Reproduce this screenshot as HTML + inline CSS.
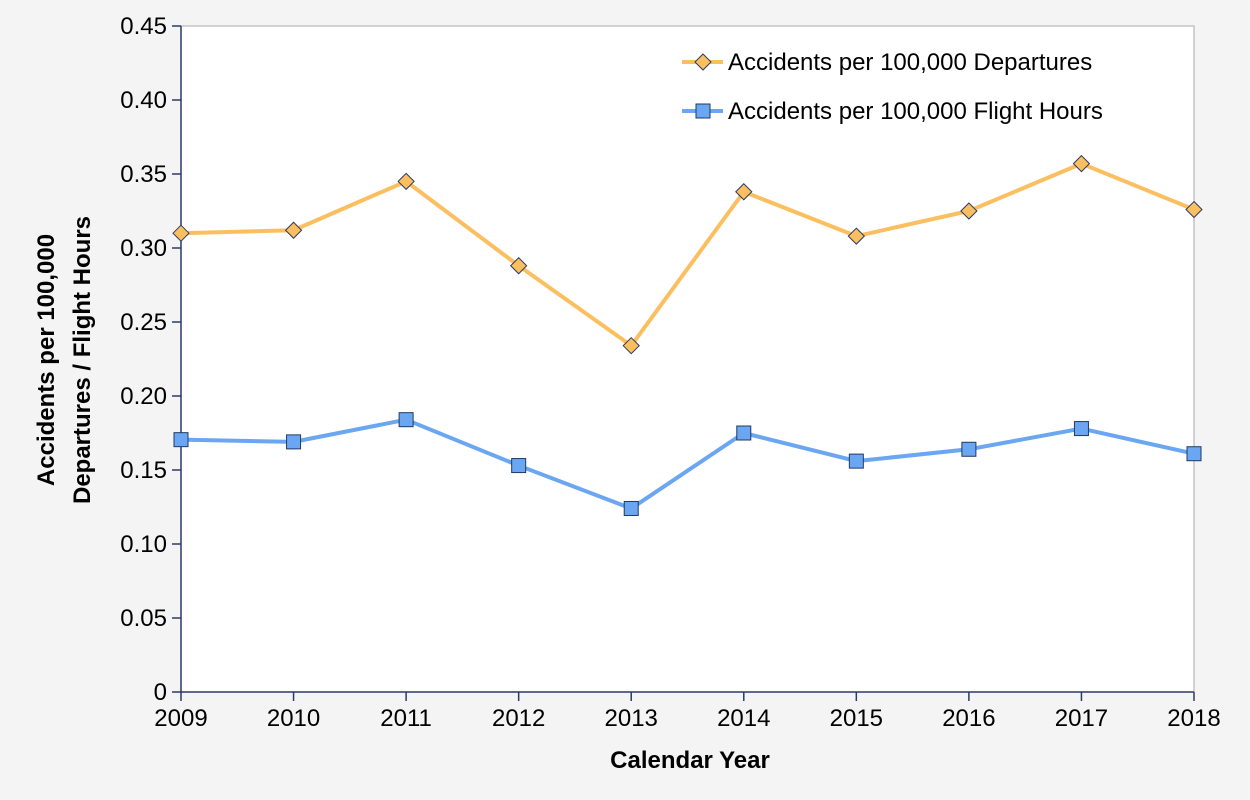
<!DOCTYPE html>
<html><head><meta charset="utf-8"><style>
html,body{margin:0;padding:0;background:#f4f4f4;}
svg{display:block;font-family:"Liberation Sans",Arial,sans-serif;}
</style></head><body>
<svg id="chart" width="1250" height="800">
<rect x="0" y="0" width="1250" height="800" fill="#f4f4f4"/>
<rect x="181" y="26" width="1013" height="666" fill="#fff" stroke="#aaa" stroke-width="1"/>
<g id="axes"></g>
<g id="series"></g>
<text x="690" y="768" font-size="24" font-weight="bold" text-anchor="middle">Calendar Year</text>
<text transform="translate(54,360) rotate(-90)" font-size="24" font-weight="bold" text-anchor="middle"><tspan x="0" dy="0">Accidents per 100,000</tspan><tspan x="0" dy="36">Departures / Flight Hours</tspan></text>
<g>
<g>
<line x1="682" y1="62" x2="723" y2="62" stroke="#fbbf60" stroke-width="4"/>
<path d="M703,54 L711,62 L703,70 L695,62 Z" fill="#fbbf60" stroke="#2b3a66" stroke-width="1"/>
<text x="728" y="70" font-size="24">Accidents per 100,000 Departures</text>
</g>
<g>
<line x1="682" y1="111" x2="723" y2="111" stroke="#6aa6f2" stroke-width="4"/>
<rect x="696" y="104" width="14" height="14" fill="#6aa6f2" stroke="#1f3a66" stroke-width="1"/>
<text x="728" y="119" font-size="24">Accidents per 100,000 Flight Hours</text>
</g>
</g>
</svg>
<script>
const years = ["2009","2010","2011","2012","2013","2014","2015","2016","2017","2018"];
const departures = [0.310,0.312,0.345,0.288,0.234,0.338,0.308,0.325,0.357,0.326];
const flightHours = [0.1705,0.169,0.184,0.153,0.124,0.175,0.156,0.164,0.178,0.161];
const yTicks = [0,0.05,0.10,0.15,0.20,0.25,0.30,0.35,0.40,0.45];
const yTickLabels = ["0","0.05","0.10","0.15","0.20","0.25","0.30","0.35","0.40","0.45"];

const X0=181,X1=1194,Y0=692,Y1=26,YMAX=0.45;
const NS="http://www.w3.org/2000/svg";
function xs(i){return X0+(X1-X0)*i/(years.length-1);}
function ys(v){return Y0-(Y0-Y1)*v/YMAX;}
function mk(tag,attrs,parent){const e=document.createElementNS(NS,tag);for(const k in attrs)e.setAttribute(k,attrs[k]);parent.appendChild(e);return e;}
const axes=document.getElementById('axes');
const ser=document.getElementById('series');
const ax=mk('line',{x1:X0,y1:Y1,x2:X0,y2:Y0,stroke:'#2b3a66','stroke-width':1.5},axes);


const bx=mk('line',{x1:X0,y1:Y0,x2:X1,y2:Y0,stroke:'#2b3a66','stroke-width':1.5},axes);


yTicks.forEach((v,i)=>{
  const y=ys(v);
  mk('line',{x1:X0-9,y1:y,x2:X0,y2:y,stroke:'#2b3a66','stroke-width':1.5},axes);
  const t=mk('text',{x:X0-14,y:y+8,'font-size':24,'text-anchor':'end'},axes);
  t.textContent=yTickLabels[i];
  
  
});
years.forEach((yr,i)=>{
  const x=xs(i);
  mk('line',{x1:x,y1:Y0,x2:x,y2:Y0+9,stroke:'#2b3a66','stroke-width':1.5},axes);
  const t=mk('text',{x:x,y:Y0+34,'font-size':24,'text-anchor':'middle'},axes);
  t.textContent=yr;
  
  
});
function drawLine(vals,color,name){
  const p=mk('polyline',{points:vals.map((v,i)=>xs(i)+','+ys(v)).join(' '),fill:'none',stroke:color,'stroke-width':4,'stroke-linejoin':'round'},ser);
  
  
}
drawLine(departures,'#fbbf60','departures');
drawLine(flightHours,'#6aa6f2','flight-hours');
departures.forEach((v,i)=>{
  const x=xs(i),y=ys(v);
  const m=mk('path',{d:`M${x},${y-8} L${x+8},${y} L${x},${y+8} L${x-8},${y} Z`,fill:'#fbbf60',stroke:'#2b3a66','stroke-width':1},ser);
  
  
});
flightHours.forEach((v,i)=>{
  const x=xs(i),y=ys(v);
  const m=mk('rect',{x:x-7,y:y-7,width:14,height:14,fill:'#6aa6f2',stroke:'#1f3a66','stroke-width':1},ser);
  
  
});
</script>
</body></html>
